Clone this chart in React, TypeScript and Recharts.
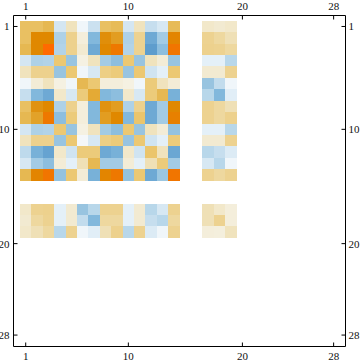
import React from 'react';
import { ScatterChart, Scatter, XAxis, YAxis } from 'recharts';

// Matrix values (rows 1-14, columns 1-14)
const blockMain: number[][] = [
  [0.45, 0.45, 0.5, -0.3, 0.2, -0.1, -0.35, 0.45, 0.48, -0.3, 0.2, -0.38, -0.28, 0.48],
  [0.45, 0.8, 0.8, -0.5, 0.33, 0.08, -0.7, 0.75, 0.65, -0.5, 0.32, -0.8, -0.55, 0.82],
  [0.5, 0.8, 1.0, -0.48, 0.33, 0.12, -0.8, 0.8, 0.9, -0.48, 0.32, -0.9, -0.65, 0.92],
  [-0.3, -0.5, -0.48, 0.4, -0.6, 0.05, 0.2, -0.55, -0.65, 0.4, -0.6, 0.2, 0.1, -0.6],
  [0.2, 0.33, 0.33, -0.6, 0.4, -0.1, -0.28, 0.35, 0.38, -0.6, 0.4, -0.32, -0.2, 0.4],
  [-0.1, 0.1, 0.2, 0.05, -0.1, 0.5, 0.4, 0.08, 0.08, 0.05, -0.1, 0.38, 0.2, 0.1],
  [-0.38, -0.7, -0.8, 0.15, -0.28, 0.38, 0.58, -0.7, -0.65, 0.15, -0.28, 0.38, 0.5, -0.75],
  [0.45, 0.72, 0.8, -0.5, 0.33, 0.08, -0.7, 0.72, 0.65, -0.5, 0.33, -0.8, -0.55, 0.8],
  [0.5, 0.62, 0.9, -0.65, 0.38, 0.08, -0.7, 0.65, 0.8, -0.7, 0.42, -0.8, -0.55, 0.85],
  [-0.3, -0.5, -0.48, 0.4, -0.6, 0.05, 0.2, -0.55, -0.65, 0.4, -0.6, 0.2, 0.1, -0.62],
  [0.2, 0.33, 0.33, -0.6, 0.4, -0.05, -0.28, 0.35, 0.38, -0.6, 0.4, -0.32, -0.2, 0.38],
  [-0.42, -0.75, -0.85, 0.15, -0.32, 0.38, 0.38, -0.8, -0.75, 0.15, -0.32, 0.42, 0.2, -0.82],
  [-0.28, -0.55, -0.65, 0.1, -0.2, 0.22, 0.5, -0.55, -0.55, 0.1, -0.2, 0.22, 0.38, -0.55],
  [0.5, 0.82, 0.92, -0.62, 0.4, 0.1, -0.75, 0.82, 0.9, -0.62, 0.4, -0.8, -0.58, 0.92],
];
const mainRows = [1, 2, 3, 4, 5, 6, 7, 8, 9, 10, 11, 12, 13, 14];
const mainCols = [1, 2, 3, 4, 5, 6, 7, 8, 9, 10, 11, 12, 13, 14];

// Rows 1-14, columns 17-19
const blockRight: number[][] = [
  [0.15, 0.12, 0.15],
  [0.32, 0.28, 0.22],
  [0.33, 0.32, 0.28],
  [-0.2, -0.2, -0.45],
  [0.12, 0.12, 0.32],
  [-0.6, -0.4, -0.1],
  [-0.45, -0.7, -0.22],
  [0.32, 0.28, 0.22],
  [0.32, 0.28, 0.33],
  [-0.2, -0.2, -0.45],
  [0.12, 0.12, 0.32],
  [-0.45, -0.38, -0.25],
  [-0.28, -0.45, -0.1],
  [0.32, 0.28, 0.32],
];
const sideCols = [17, 18, 19];

// Rows 17-19, columns 1-14
const blockBottom: number[][] = [
  [0.15, 0.32, 0.33, -0.2, 0.12, -0.6, -0.45, 0.32, 0.32, -0.2, 0.12, -0.45, -0.28, 0.32],
  [0.12, 0.28, 0.32, -0.2, 0.12, -0.4, -0.7, 0.28, 0.28, -0.2, 0.12, -0.38, -0.45, 0.28],
  [0.15, 0.22, 0.28, -0.45, 0.32, -0.1, -0.22, 0.22, 0.33, -0.45, 0.32, -0.25, -0.1, 0.32],
];
const sideRows = [17, 18, 19];

// Rows 17-19, columns 17-19
const blockCorner: number[][] = [
  [0.22, 0.15, 0.08],
  [0.22, 0.32, 0.08],
  [0.08, 0.07, 0.2],
];

const tickValues = [1, 10, 20, 28];

type Cell = { col: number; row: number; v: number };
const cells: Cell[] = [];
const addBlock = (rows: number[], cols: number[], vals: number[][]) => {
  rows.forEach((r, i) => cols.forEach((c, j) => cells.push({ col: c, row: r, v: vals[i][j] })));
};
addBlock(mainRows, mainCols, blockMain);
addBlock(mainRows, sideCols, blockRight);
addBlock(sideRows, mainCols, blockBottom);
addBlock(sideRows, sideCols, blockCorner);

const posStops = ['#f7f5ee', '#f3ecd6', '#f0e3bd', '#edd598', '#ecc872', '#e6b852', '#e3a62e', '#e09414', '#e08800', '#ee7800', '#ff6a00'];
const negStops = ['#f7f8f8', '#f0f6fa', '#e4f0f8', '#d4e6f2', '#c2dced', '#aed1e7', '#98c4e0', '#82b8dc', '#6ea9d4', '#5e9dcd', '#4e90c6'];

const hex = (s: string) => [1, 3, 5].map((i) => parseInt(s.slice(i, i + 2), 16));
const colorOf = (v: number) => {
  const stops = v >= 0 ? posStops : negStops;
  const t = Math.min(1, Math.abs(v)) * 10;
  const i = Math.min(9, Math.floor(t));
  const f = t - i;
  const a = hex(stops[i]);
  const b = hex(stops[i + 1]);
  const c = a.map((x, k) => Math.round(x + (b[k] - x) * f));
  return `rgb(${c[0]},${c[1]},${c[2]})`;
};

const W = 360;
const H = 363;
const X_DOMAIN: [number, number] = [-0.07, 29.04];
const Y_DOMAIN: [number, number] = [0.04, 29.0];
const PLOT_W = 332;
const PLOT_H = 331;
const CW = PLOT_W / (X_DOMAIN[1] - X_DOMAIN[0]);
const CH = PLOT_H / (Y_DOMAIN[1] - Y_DOMAIN[0]);

const CellShape = (props: any) => {
  const { cx, cy, payload } = props;
  if (cx == null || cy == null) return null;
  return (
    <rect
      x={cx - CW / 2}
      y={cy - CH / 2}
      width={CW}
      height={CH}
      fill={colorOf(payload.v)}
      shapeRendering="crispEdges"
    />
  );
};

const tickStyle = { fontFamily: 'Liberation Serif', fontSize: 11, fill: '#111' };
const lineStyle = { stroke: '#000', strokeWidth: 1 };

export default function App() {
  return (
    <div style={{ position: 'absolute', left: 0, top: 0, width: W, height: H, background: '#fff' }}>
      <ScatterChart width={W} height={H} margin={{ top: 0.5, left: 0.5, right: 0.5, bottom: 0.5 }}>
        <XAxis
          xAxisId="t"
          orientation="top"
          type="number"
          dataKey="col"
          domain={X_DOMAIN}
          allowDataOverflow
          ticks={tickValues}
          interval={0}
          height={15}
          tickSize={-4}
          tickMargin={9.5}
          tick={tickStyle}
          axisLine={lineStyle}
          tickLine={lineStyle}
        />
        <XAxis
          xAxisId="b"
          orientation="bottom"
          type="number"
          dataKey="col"
          domain={X_DOMAIN}
          allowDataOverflow
          ticks={tickValues}
          interval={0}
          height={16}
          tickSize={-4}
          tickMargin={9.3}
          tick={tickStyle}
          axisLine={lineStyle}
          tickLine={lineStyle}
        />
        <YAxis
          yAxisId="l"
          orientation="left"
          type="number"
          dataKey="row"
          domain={Y_DOMAIN}
          reversed
          allowDataOverflow
          ticks={tickValues}
          interval={0}
          width={13}
          tickSize={-4}
          tickMargin={8}
          tick={tickStyle}
          axisLine={lineStyle}
          tickLine={lineStyle}
        />
        <YAxis
          yAxisId="r"
          orientation="right"
          type="number"
          dataKey="row"
          domain={Y_DOMAIN}
          reversed
          allowDataOverflow
          ticks={tickValues}
          interval={0}
          width={14}
          tickSize={-4}
          tickMargin={7}
          tick={tickStyle}
          axisLine={lineStyle}
          tickLine={lineStyle}
        />
        <Scatter
          data={cells}
          xAxisId="b"
          yAxisId="l"
          dataKey="row"
          shape={CellShape}
          isAnimationActive={false}
        />
      </ScatterChart>
    </div>
  );
}
